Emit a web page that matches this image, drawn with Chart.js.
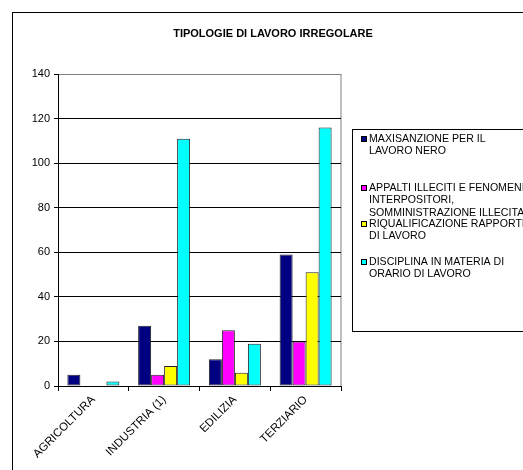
<!DOCTYPE html>
<html lang="it">
<head>
    <meta charset="UTF-8">
    <title>Tipologie di lavoro irregolare</title>
    <script src="https://cdn.jsdelivr.net/npm/chart.js"></script>
    <style>
        html, body { margin: 0; padding: 0; background: #fff; }
        #wrap { width: 523px; height: 470px; }
    </style>
</head>
<body>
    <div id="wrap"><canvas id="chart" width="523" height="470"></canvas></div>

    <script>
        // dati
        const categories = ['AGRICOLTURA', 'INDUSTRIA (1)', 'EDILIZIA', 'TERZIARIO'];
        const seriesNames = [
            'MAXISANZIONE PER IL LAVORO NERO',
            'APPALTI ILLECITI E FENOMENI INTERPOSITORI, SOMMINISTRAZIONE ILLECITA',
            'RIQUALIFICAZIONE RAPPORTI DI LAVORO',
            'DISCIPLINA IN MATERIA DI ORARIO DI LAVORO'
        ];
        const legendLines = [
            ['MAXISANZIONE PER IL', 'LAVORO NERO'],
            ['APPALTI ILLECITI E FENOMENI', 'INTERPOSITORI,', 'SOMMINISTRAZIONE ILLECITA'],
            ['RIQUALIFICAZIONE RAPPORTI', 'DI LAVORO'],
            ['DISCIPLINA IN MATERIA DI', 'ORARIO DI LAVORO']
        ];
        const maxisanzione = [5, 27, 12, 59];
        const appalti = [0, 5, 25, 20];
        const riqualificazione = [0, 9, 6, 51];
        const disciplina = [2, 111, 19, 116];
        const yMax = 140;
        const yStep = 20;
        const titleText = 'TIPOLOGIE DI LAVORO IRREGOLARE';

        const colors = ['#000080', '#FF00FF', '#FFFF00', '#00FFFF'];
        const values = [maxisanzione, appalti, riqualificazione, disciplina];

        // cornice, titolo, bordo area e legenda
        const decorPlugin = {
            id: 'decor',
            beforeDraw(chart) {
                const c = chart.ctx;
                c.save();
                c.fillStyle = '#fff';
                c.fillRect(0, 0, chart.width, chart.height);
                c.strokeStyle = '#000';
                c.lineWidth = 1;
                c.strokeRect(12.5, 12.5, 700, 700);
                c.fillStyle = '#000';
                c.font = 'bold 11px "Liberation Sans", Arial, sans-serif';
                c.textAlign = 'center';
                c.textBaseline = 'middle';
                c.fillText(titleText, 273, 34);
                const a = chart.chartArea;
                c.strokeStyle = '#808080';
                c.strokeRect(a.left + 0.5, a.top + 0.5, a.right - a.left - 0.5, a.bottom - a.top);
                c.restore();
            },
            afterDraw(chart) {
                const c = chart.ctx;
                c.save();
                c.strokeStyle = '#000';
                c.lineWidth = 1;
                c.strokeRect(352.5, 129.5, 300, 202);
                const starts = [139, 188, 224, 262];
                const lh = 12.5;
                c.font = '10.6px "Liberation Sans", Arial, sans-serif';
                c.textAlign = 'left';
                c.textBaseline = 'middle';
                chart.data.datasets.forEach((ds, i) => {
                    const y0 = starts[i];
                    c.fillStyle = ds.backgroundColor;
                    c.fillRect(361, y0 - 3, 6, 6);
                    c.strokeStyle = '#000';
                    c.strokeRect(361.5, y0 - 2.5, 5, 5);
                    c.fillStyle = '#000';
                    legendLines[i].forEach((t, j) => {
                        c.fillText(t, 369, y0 + j * lh);
                    });
                });
                c.restore();
            }
        };

        const ctx = document.getElementById('chart').getContext('2d');
        const chart = new Chart(ctx, {
            type: 'bar',
            data: {
                labels: categories,
                datasets: values.map((v, i) => ({
                    label: seriesNames[i],
                    data: v,
                    backgroundColor: colors[i],
                    borderColor: '#222',
                    borderWidth: 1,
                    borderSkipped: false,
                    categoryPercentage: 0.735,
                    barPercentage: 1
                }))
            },
            options: {
                responsive: false,
                animation: false,
                devicePixelRatio: 1,
                layout: { padding: { left: 0, top: 74, right: 182, bottom: 0 } },
                plugins: {
                    legend: { display: false },
                    title: { display: false },
                    tooltip: { enabled: false }
                },
                scales: {
                    x: {
                        afterFit(scale) { scale.height = 84; },
                        grid: {
                            offset: true,
                            drawOnChartArea: false,
                            color: '#000',
                            tickLength: 5
                        },
                        border: { color: '#000' },
                        ticks: {
                            color: '#000',
                            font: { family: '"Liberation Sans", Arial, sans-serif', size: 11.5 },
                            minRotation: 45,
                            maxRotation: 45,
                            padding: 2
                        }
                    },
                    y: {
                        min: 0,
                        max: yMax,
                        afterFit(scale) { scale.width = 58; },
                        grid: {
                            color: (c) => c.tick && c.tick.value === yMax ? '#808080' : '#000',
                            tickColor: '#000',
                            tickLength: 4
                        },
                        border: { color: '#000' },
                        ticks: {
                            stepSize: yStep,
                            color: '#000',
                            padding: 4,
                            font: { family: '"Liberation Sans", Arial, sans-serif', size: 11 }
                        }
                    }
                }
            },
            plugins: [decorPlugin]
        });
    </script>
</body>
</html>
